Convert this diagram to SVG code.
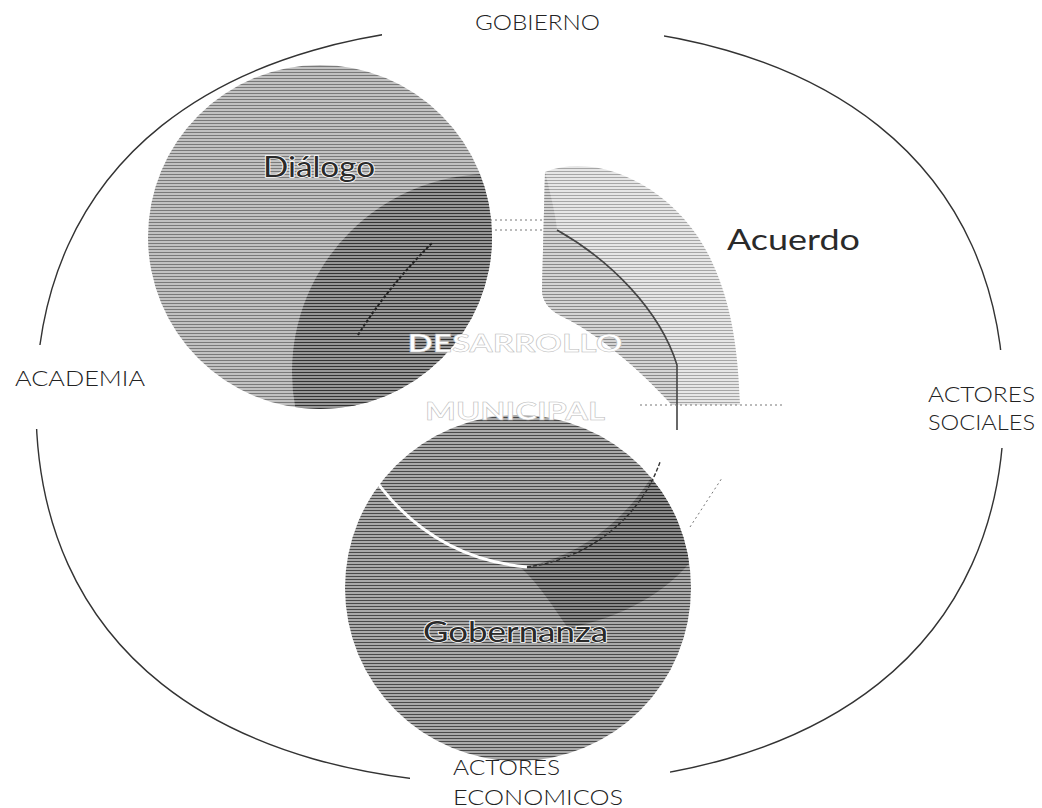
<svg xmlns="http://www.w3.org/2000/svg" width="1042" height="808" viewBox="0 0 1042 808">
<style>
.lbl{font-family:"Lato","DejaVu Sans",sans-serif;font-weight:300;font-size:21px;fill:#222}
.big{font-family:"Lato","DejaVu Sans",sans-serif;font-weight:400;font-size:28px;fill:#2a2a2a;stroke:#fff;stroke-width:1.6;paint-order:stroke}
.ctr{font-family:"Lato","DejaVu Sans",sans-serif;font-weight:700;font-size:25px;fill:#fff;stroke:#bbb;stroke-width:0.5}
.ring{fill:none;stroke:#333;stroke-width:1.4}
.dot{fill:none;stroke:#777;stroke-width:1;stroke-dasharray:2 3}
</style>
<defs>
<pattern id="pD" width="4" height="3" patternUnits="userSpaceOnUse"><rect width="4" height="3" fill="#c2c2c2"/><rect y="0" width="4" height="1" fill="#7a7a7a"/></pattern>
<pattern id="pDL" width="4" height="3" patternUnits="userSpaceOnUse"><rect width="4" height="3" fill="#969696"/><rect y="0" width="4" height="1" fill="#333"/></pattern>
<pattern id="pA" width="4" height="3" patternUnits="userSpaceOnUse"><rect width="4" height="3" fill="#e6e6e6"/><rect y="0" width="4" height="1" fill="#a6a6a6"/></pattern>
<pattern id="pAL" width="4" height="3" patternUnits="userSpaceOnUse"><rect width="4" height="3" fill="#d4d4d4"/><rect y="0" width="4" height="1" fill="#8a8a8a"/></pattern>
<pattern id="pG" width="4" height="3" patternUnits="userSpaceOnUse"><rect width="4" height="3" fill="#aaaaaa"/><rect y="0" width="4" height="1" fill="#4a4a4a"/></pattern>
<pattern id="pGL" width="4" height="3" patternUnits="userSpaceOnUse"><rect width="4" height="3" fill="#888"/><rect y="0" width="4" height="1" fill="#2c2c2c"/></pattern>
<clipPath id="cD"><circle cx="320" cy="237" r="172"/></clipPath>
<clipPath id="cG"><circle cx="518" cy="588" r="173"/></clipPath>
<mask id="gaps">
<rect width="1042" height="808" fill="#fff"/>
<rect x="382" y="0" width="282" height="60" fill="#000"/>
<rect x="0" y="345" width="160" height="84" fill="#000"/>
<rect x="900" y="350" width="142" height="98" fill="#000"/>
<rect x="410" y="740" width="260" height="68" fill="#000"/>
</mask>
</defs>

<g id="frame">
<path class="ring" mask="url(#gaps)" d="M520,24 C830,24 1004,168 1004,405 C1004,642 830,785 520,785 C210,785 36,642 36,405 C36,168 210,24 520,24 Z"/>
</g>

<g id="acuerdo">
<path fill="url(#pA)" d="M545,172 C600,150 680,190 712,262 C732,305 738,350 740,405 L672,405 C640,370 600,335 563,317 C548,310 542,300 542,290 Z"/>
<path fill="url(#pAL)" d="M545,172 C552,200 556,218 557,230 C610,260 660,310 677,365 L677,405 L672,405 C640,370 600,335 563,317 C548,310 542,300 542,290 Z"/>
<path d="M557,230 C610,260 660,310 677,365 L677,430" fill="none" stroke="#444" stroke-width="1.6"/>
<text class="big" x="727" y="250" textLength="133" lengthAdjust="spacingAndGlyphs">Acuerdo</text>
</g>

<g id="dialogo">
<circle cx="320" cy="237" r="172" fill="url(#pD)"/>
<circle cx="490" cy="372" r="198" fill="url(#pDL)" clip-path="url(#cD)"/>
<path d="M358,335 C380,300 405,270 432,243" fill="none" stroke="#222" stroke-width="2" stroke-dasharray="3 2"/>
<text class="big" x="263" y="177" textLength="112" lengthAdjust="spacingAndGlyphs">Diálogo</text>
</g>

<g id="gobernanza">
<circle cx="518" cy="588" r="173" fill="url(#pG)"/>
<path fill="url(#pGL)" clip-path="url(#cG)" d="M520,567 C575,560 630,520 660,462 C680,490 692,520 692,560 C660,600 610,620 568,628 C555,610 540,585 520,567 Z"/>
<path d="M365,465 C400,520 450,560 527,567" fill="none" stroke="#fff" stroke-width="3"/>
<path d="M527,567 C585,560 640,520 660,462" fill="none" stroke="#333" stroke-width="1.4" stroke-dasharray="4 2"/>
<text class="big" x="423" y="642" textLength="185" lengthAdjust="spacingAndGlyphs">Gobernanza</text>
</g>

<g id="connectors">
<path class="dot" d="M640,405 L785,405"/>
<path class="dot" d="M490,220 L545,220 M490,230 L545,230"/>
<path class="dot" d="M690,527 L722,478"/>
</g>

<g id="centro">
<text class="ctr" x="515" y="352" text-anchor="middle" textLength="215" lengthAdjust="spacingAndGlyphs">DESARROLLO</text>
<text class="ctr" x="515" y="420" text-anchor="middle" textLength="180" lengthAdjust="spacingAndGlyphs">MUNICIPAL</text>
</g>

<g id="gobierno"><text class="lbl" x="475" y="30" textLength="125" lengthAdjust="spacingAndGlyphs">GOBIERNO</text></g>
<g id="academia"><text class="lbl" x="15" y="386" textLength="130" lengthAdjust="spacingAndGlyphs">ACADEMIA</text></g>
<g id="actores-sociales">
<text class="lbl" x="928" y="402" textLength="107" lengthAdjust="spacingAndGlyphs">ACTORES</text>
<text class="lbl" x="928" y="430" textLength="107" lengthAdjust="spacingAndGlyphs">SOCIALES</text>
</g>
<g id="actores-economicos">
<text class="lbl" x="453" y="775" textLength="107" lengthAdjust="spacingAndGlyphs">ACTORES</text>
<text class="lbl" x="453" y="805" textLength="170" lengthAdjust="spacingAndGlyphs">ECONOMICOS</text>
</g>
</svg>
